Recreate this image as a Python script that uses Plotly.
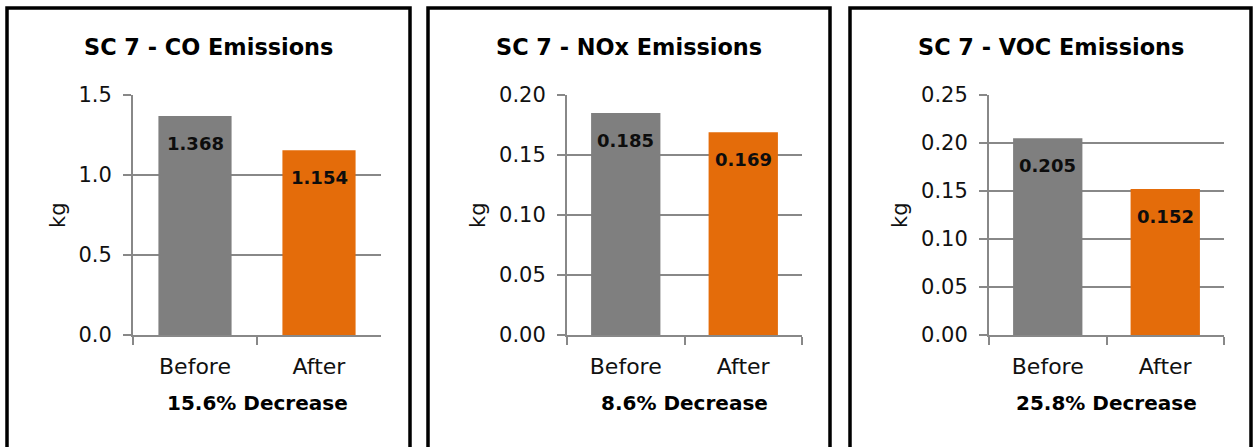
import plotly.graph_objects as go

W, H = 1253, 447

categories = ["Before", "After"]
co_values = [1.368, 1.154]
nox_values = [0.185, 0.169]
voc_values = [0.205, 0.152]
titles = ["SC 7 - CO Emissions", "SC 7 - NOx Emissions", "SC 7 - VOC Emissions"]
changes = ["15.6% Decrease", "8.6% Decrease", "25.8% Decrease"]
y_ranges = [(0, 1.5), (0, 0.20), (0, 0.25)]
y_dticks = [0.5, 0.05, 0.05]
y_formats = [".1f", ".2f", ".2f"]
bar_colors = ["#7F7F7F", "#E46C0A"]
y_unit = "kg"

series = [co_values, nox_values, voc_values]

# layout geometry in pixels
plot_x = [(133, 381), (567, 802), (989, 1224)]
plot_top, plot_bottom = 95, 335
frames = [(7, 410), (428, 830), (850, 1251)]
frame_top = 8
kg_x = [58, 478, 900]
FONT = "DejaVu Sans"
GRID = "#888888"


def px(x):
    return x / W


def py(y):
    return 1 - y / H


fig = go.Figure()
annotations = []
shapes = []
layout_axes = {}

for i in range(3):
    sfx = "" if i == 0 else str(i + 1)
    xa, ya = "x" + sfx, "y" + sfx
    fig.add_trace(go.Bar(
        x=categories, y=series[i], marker=dict(color=bar_colors, line=dict(width=0)),
        xaxis=xa, yaxis=ya, showlegend=False, hoverinfo="x+y",
    ))
    layout_axes["xaxis" + sfx] = dict(
        domain=[px(plot_x[i][0]), px(plot_x[i][1])], anchor=ya, automargin=False,
        type="category", showline=True, linecolor=GRID, linewidth=2,
        ticks="outside", tickson="boundaries", ticklen=8, tickwidth=2, tickcolor=GRID,
        tickfont=dict(family=FONT, size=22, color="#111111"), ticklabelstandoff=11,
        showgrid=False, zeroline=False, fixedrange=True,
    )
    layout_axes["yaxis" + sfx] = dict(
        domain=[py(plot_bottom), py(plot_top)], anchor=xa, automargin=False,
        range=list(y_ranges[i]), dtick=y_dticks[i], tick0=0, tickformat=y_formats[i],
        showline=True, linecolor=GRID, linewidth=2,
        ticks="outside", ticklen=8, tickwidth=2, tickcolor=GRID,
        showgrid=True, gridcolor=GRID, gridwidth=2, zeroline=False,
        tickfont=dict(family=FONT, size=21, color="#111111"), ticklabelstandoff=7,
        fixedrange=True,
    )
    # value labels inside the bars
    for c, v in zip(categories, series[i]):
        annotations.append(dict(
            x=c, y=v, xref=xa, yref=ya, text=f"{v:.3f}", showarrow=False,
            yanchor="middle", yshift=-27,
            font=dict(family=FONT, size=18, color="#0d0d0d", weight="bold"),
        ))
    # panel title
    cx = (frames[i][0] + frames[i][1]) / 2
    annotations.append(dict(
        x=px(cx), y=py(47), xref="paper", yref="paper", text=f"<b>{titles[i]}</b>",
        showarrow=False, xanchor="center", yanchor="middle",
        font=dict(family=FONT, size=22.4, color="#000000"),
    ))
    # percentage change under the axis
    annotations.append(dict(
        x=0.5, y=py(403), xref=xa + " domain", yref="paper", text=f"<b>{changes[i]}</b>",
        showarrow=False, xanchor="center", yanchor="middle",
        font=dict(family=FONT, size=20, color="#000000"),
    ))
    # y-axis unit
    annotations.append(dict(
        x=px(kg_x[i]), y=py((plot_top + plot_bottom) / 2), xref="paper", yref="paper",
        text=y_unit, showarrow=False, textangle=-90, xanchor="center", yanchor="middle",
        font=dict(family=FONT, size=21, color="#111111"),
    ))
    # panel frame
    shapes.append(dict(
        type="rect", xref="paper", yref="paper",
        x0=px(frames[i][0]), x1=px(frames[i][1]), y0=py(H + 20), y1=py(frame_top),
        line=dict(color="#000000", width=3.5), fillcolor="rgba(0,0,0,0)", layer="above",
    ))

fig.update_layout(
    width=W, height=H, margin=dict(l=0, r=0, t=0, b=0, autoexpand=False),
    paper_bgcolor="white", plot_bgcolor="white",
    bargap=0.41, annotations=annotations, shapes=shapes,
    font=dict(family=FONT),
    **layout_axes,
)

fig.write_html(
    "out.html",
    config={"displayModeBar": False},
    post_script="document.body.style.margin='0';document.body.style.overflow='hidden';",
)
